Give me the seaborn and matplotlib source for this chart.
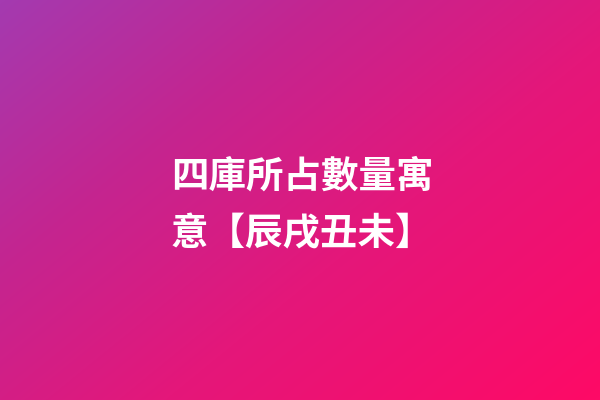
import numpy as np
import matplotlib.pyplot as plt
import seaborn as sns
from matplotlib.colors import LinearSegmentedColormap

sns.set_style('white')
plt.rcParams['font.family'] = ['Noto Sans CJK TC', 'DejaVu Sans']

title_lines = ['四庫所占數量寓', '意【辰戌丑未】']
# colour stops of the background gradient
gradient_stops = [0.0, 0.3, 0.6, 1.0]
gradient_colors = ['#a43ab0', '#c42590', '#e4177a', '#fe0a66']

fig = plt.figure(figsize=(6, 4), dpi=100)
ax = fig.add_axes([0, 0, 1, 1])

# diagonal gradient, top-left purple to bottom-right pink
xx, yy = np.meshgrid(np.linspace(0, 1, 600), np.linspace(0, 1, 400))
grad = 0.55 * xx + 0.45 * yy
cmap = LinearSegmentedColormap.from_list('bg', list(zip(gradient_stops, gradient_colors)))
ax.imshow(grad, cmap=cmap, vmin=0, vmax=1, extent=[0, 600, 400, 0], aspect='auto')
ax.set_xlim(0, 600)
ax.set_ylim(400, 0)
ax.axis('off')

for i, line in enumerate(title_lines):
    ax.text(171, 176 + i * 57, line, color='white', fontsize=27,
            fontweight='heavy', ha='left', va='center')

fig.savefig('out.png', dpi=100)
